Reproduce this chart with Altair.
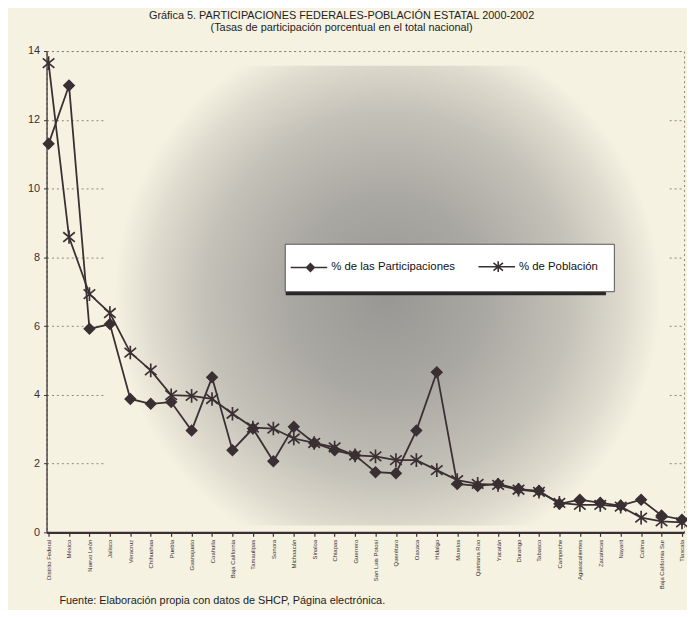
import altair as alt
import pandas as pd

estados = ["Distrito Federal", "México", "Nuevo León", "Jalisco", "Veracruz", "Chihuahua",
           "Puebla", "Guanajuato", "Coahuila", "Baja California", "Tamaulipas", "Sonora",
           "Michoacán", "Sinaloa", "Chiapas", "Guerrero", "San Luis Potosí", "Querétaro",
           "Oaxaca", "Hidalgo", "Morelos", "Quintana Roo", "Yucatán", "Durango", "Tabasco",
           "Campeche", "Aguascalientes", "Zacatecas", "Nayarit", "Colima",
           "Baja California Sur", "Tlaxcala"]
participaciones = [11.3, 13.0, 5.92, 6.06, 3.88, 3.74, 3.79, 2.96, 4.51, 2.39, 3.02, 2.07,
                   3.07, 2.6, 2.39, 2.24, 1.75, 1.72, 2.96, 4.66, 1.41, 1.35, 1.41, 1.26,
                   1.21, 0.83, 0.95, 0.86, 0.78, 0.95, 0.49, 0.37]
poblacion = [13.65, 8.59, 6.93, 6.38, 5.23, 4.71, 3.99, 3.97, 3.88, 3.45, 3.05, 3.02,
             2.73, 2.6, 2.47, 2.24, 2.21, 2.1, 2.1, 1.81, 1.52, 1.41, 1.38, 1.24,
             1.18, 0.86, 0.8, 0.8, 0.75, 0.43, 0.32, 0.29]

S1 = "% de las Participaciones"
S2 = "% de Población"
n = len(estados)
df = pd.DataFrame({
    "estado": estados + estados,
    "serie": [S1] * n + [S2] * n,
    "valor": participaciones + poblacion,
})

W, H = 645, 487
BG = "#f6f2e2"
DARK = "#3a3033"
FONT = "Liberation Sans, Arial, sans-serif"
AST = "M0,-1L0,1M-0.85,-0.7L0.85,0.7M-0.85,0.7L0.85,-0.7"

LEG_P1 = "M-2.83,0L3.33,0M-0.15,0L0.5,-0.65L1.15,0L0.5,0.65Z"
LEG_P2 = "M-2.83,0L3.33,0M0.5,-0.9L0.5,0.9M-0.3,-0.65L1.3,0.65M-0.3,0.65L1.3,-0.65"

x = alt.X("estado:N", sort=estados,
          scale=alt.Scale(type="point", padding=0.1),
          axis=alt.Axis(title=None, labelAngle=-90, labelFontSize=6, labelColor=DARK,
                        labelFont=FONT, labelPadding=3, labelLimit=200,
                        domainColor=DARK, domainWidth=2.5, tickColor=DARK, tickSize=4,
                        tickWidth=1.2, grid=False))
y = alt.Y("valor:Q", scale=alt.Scale(domain=[0, 14], nice=False),
          axis=alt.Axis(title=None, values=list(range(0, 15, 2)), labelFontSize=11,
                        labelColor=DARK, labelFont=FONT, labelPadding=4,
                        domainColor=DARK, domainWidth=1.3, tickColor=DARK, tickSize=3,
                        grid=True, gridColor="#8a8580", gridDash=[2, 3], gridWidth=1))

shade = alt.Chart(pd.DataFrame({"a": [0]})).mark_rect(
    fill=alt.Gradient(gradient="radial",
                      stops=[alt.GradientStop(color="#999794", offset=0),
                             alt.GradientStop(color="#aaa8a2", offset=0.35),
                             alt.GradientStop(color="#c4c1b8", offset=0.65),
                             alt.GradientStop(color="#e0dccf", offset=0.85),
                             alt.GradientStop(color=BG, offset=0.97)],
                      x1=0.5, y1=0.5, r1=0, x2=0.5, y2=0.5, r2=0.5)
).encode(x=alt.value(60), x2=alt.value(630), y=alt.value(15), y2=alt.value(480))

base = alt.Chart(df)
lines = base.mark_line(strokeWidth=1.8).encode(
    x=x, y=y,
    detail="serie:N",
    color=alt.value(DARK),
)

points = base.mark_point(strokeWidth=1.7, opacity=1).encode(
    x=x, y=y,
    shape=alt.Shape("serie:N", scale=alt.Scale(domain=[S1, S2], range=["diamond", AST]),
                    legend=None),
    fill=alt.Fill("serie:N", scale=alt.Scale(domain=[S1, S2], range=[DARK, "transparent"]),
                  legend=None),
    size=alt.Size("serie:N", scale=alt.Scale(domain=[S1, S2], range=[105, 190]),
                  legend=None),
    stroke=alt.value(DARK),
)

leg = alt.Legend(
    title=None, orient="none", legendX=241, legendY=195,
    direction="horizontal", fillColor="white", strokeColor="#555",
    padding=16, labelFontSize=11.5,
    labelFont=FONT, labelColor="#111",
    symbolSize=144, labelOffset=17, columnPadding=19,
    symbolStrokeColor=DARK, symbolStrokeWidth=1.6)

legend_layer = base.transform_filter("false").mark_point(strokeWidth=1.6, opacity=1).encode(
    x=x, y=y,
    shape=alt.Shape("serie:N", scale=alt.Scale(domain=[S1, S2], range=[LEG_P1, LEG_P2]),
                    legend=leg),
    fill=alt.Fill("serie:N", scale=alt.Scale(domain=[S1, S2], range=[DARK, "transparent"]),
                  legend=leg),
    stroke=alt.Stroke("serie:N", scale=alt.Scale(domain=[S1, S2], range=[DARK, DARK]),
                      legend=leg),
    size=alt.value(144),
)

shadow = alt.Chart(pd.DataFrame({"a": [0]})).mark_rect(fill="#2a2526").encode(
    x=alt.value(242), x2=alt.value(566), y=alt.value(199), y2=alt.value(247))

footer = alt.Chart(pd.DataFrame({"t": ["Fuente: Elaboración propia con datos de SHCP, Página electrónica."]})).mark_text(
    align="left", baseline="middle", fontSize=11, font=FONT, color="#222"
).encode(x=alt.value(13), y=alt.value(H + 69), text="t:N")

chart = alt.layer(shade, lines, points, shadow, legend_layer, footer).resolve_scale(
    shape="independent", fill="independent", stroke="independent", size="independent"
).properties(
    width=W, height=H,
    title=alt.TitleParams(
        text="Gráfica 5. PARTICIPACIONES FEDERALES-POBLACIÓN ESTATAL 2000-2002",
        subtitle="(Tasas de participación porcentual en el total nacional)",
        anchor="middle", dx=-24, fontSize=11, subtitleFontSize=11,
        font=FONT, subtitleFont=FONT, fontWeight="normal", color="#222",
        subtitleColor="#222", offset=12, subtitlePadding=1),
    autosize=alt.AutoSizeParams(type="none"),
    padding={"left": 39, "top": 40, "right": 3, "bottom": 75},
    background=BG,
).configure_view(stroke="#8a8580", strokeDash=[2, 3], strokeWidth=1)

chart.save("out.html", embed_options={"renderer": "svg", "actions": False})
